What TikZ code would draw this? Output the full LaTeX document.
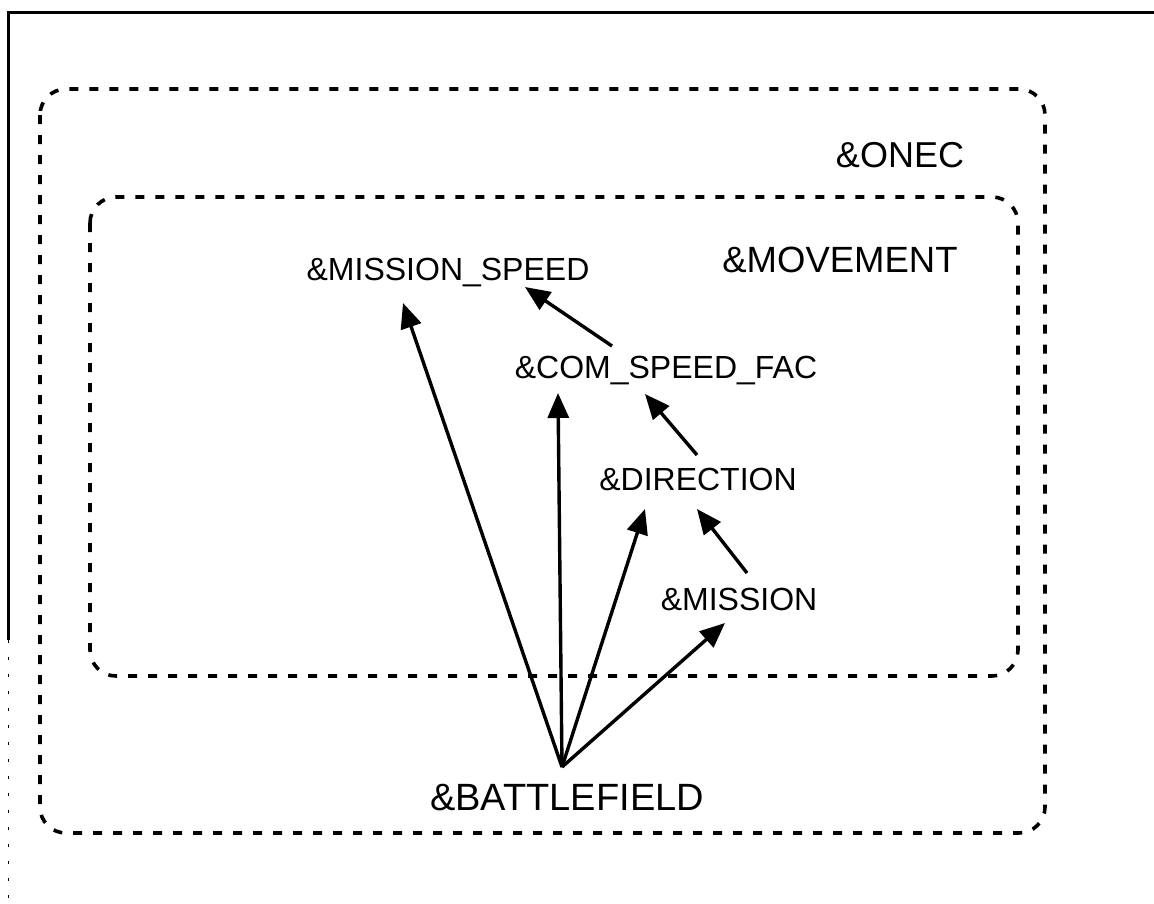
\documentclass[tikz,border=0pt]{standalone}
\usepackage{fontspec}
\setmainfont{Liberation Sans}
\usetikzlibrary{arrows.meta,calc}
\begin{document}
\begin{tikzpicture}[x=1pt,y=-1pt,
  lbl/.style={inner sep=0pt,anchor=base,font=\fontsize{32}{38}\selectfont},
  biglbl/.style={inner sep=0pt,anchor=base,font=\fontsize{36}{42}\selectfont},
  grp/.style={line width=3.6pt,dash pattern=on 9pt off 11pt,rounded corners=26pt},
  arr/.style={line width=3.4pt,-{Triangle[length=25pt,width=21pt]}},
  framesolid/.style={line width=3pt},
  framefaint/.style={line width=1pt,dash pattern=on 3pt off 14pt}]
\useasboundingbox (0,0) rectangle (1154,903);
% frame
\draw[framesolid] (8,640) -- (8,12) -- (1154,12);
\draw[framefaint] (8,640) -- (8,903);
% group boxes
\draw[grp] (40,89) rectangle (1045,833);
\draw[grp] (90,197) rectangle (1018,676);
% labels
\node[biglbl] (onec) at (900,167) {\&ONEC};
\node[biglbl,font=\fontsize{36.5}{42}\selectfont] (mov) at (840,272) {\&MOVEMENT};
\node[lbl] (ms) at (448,280) {\&MISSION\_SPEED};
\node[lbl] (csf) at (666,378) {\&COM\_SPEED\_FAC};
\node[lbl] (dir) at (698,490) {\&DIRECTION};
\node[lbl] (mis) at (739,610) {\&MISSION};
\node[biglbl,font=\fontsize{38}{44}\selectfont] (bf) at (567,810) {\&BATTLEFIELD};
% connector end points
\coordinate (src) at ($(bf.base)+(-5,-43)$);
% arrows
\draw[arr] (src) -- ($(ms.base)+(-45,23)$);
\draw[arr] (src) -- ($(csf.base)+(-108,15)$);
\draw[arr] (src) -- ($(dir.base)+(-53,19)$);
\draw[arr] (src) -- ($(mis.base)+(-14,13)$);
\draw[arr] ($(csf.base)+(-54,-32)$) -- ($(ms.base)+(77,7)$);
\draw[arr] ($(dir.base)+(-1,-35)$) -- ($(csf.base)+(-21,16)$);
\draw[arr] ($(mis.base)+(8,-37)$) -- ($(dir.base)+(-1,19)$);
\end{tikzpicture}
\end{document}
